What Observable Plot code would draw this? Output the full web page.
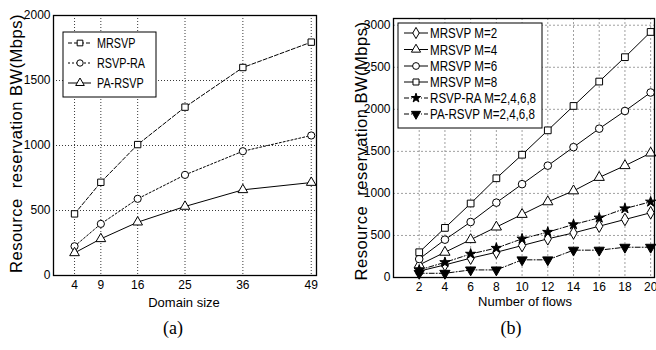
<!DOCTYPE html>
<html><head><meta charset="utf-8">
<script src="https://cdn.jsdelivr.net/npm/d3@7"></script>
<script src="https://cdn.jsdelivr.net/npm/@observablehq/plot@0.6"></script>
<style>
body{margin:0;background:#fff;}
#wrap{position:relative;width:656px;height:350px;overflow:hidden;background:#fff}
#wrap svg{position:absolute;top:0}
.cap{position:absolute;font-family:"Liberation Serif","Times New Roman",serif;font-size:18px;top:318px;transform:translateX(-50%);color:#000}
</style></head><body><div id="wrap"></div>
<script>
// ---- Chart (a) data ----
const domainSizes = [4, 9, 16, 25, 36, 49];
const mrsvpA   = [474, 717, 1007, 1295, 1600, 1795];
const rsvpRaA  = [225, 397, 590, 774, 956, 1077];
const paRsvpA  = [174, 282, 410, 531, 659, 715];
const seriesA  = ["MRSVP", "RSVP-RA", "PA-RSVP"];
const yTicksA  = [0, 500, 1000, 1500, 2000];

// ---- Chart (b) data ----
const flows    = [2, 4, 6, 8, 10, 12, 14, 16, 18, 20];
const mrsvpM2  = [75, 150, 230, 300, 380, 460, 530, 610, 690, 770];
const mrsvpM4  = [150, 300, 450, 600, 750, 900, 1030, 1190, 1330, 1480];
const mrsvpM6  = [220, 450, 660, 890, 1110, 1330, 1550, 1770, 1980, 2200];
const mrsvpM8  = [300, 590, 880, 1180, 1460, 1750, 2040, 2330, 2620, 2920];
const rsvpRaB  = [90, 180, 280, 350, 460, 540, 630, 710, 820, 900];
const paRsvpB  = [50, 50, 90, 90, 210, 210, 325, 325, 360, 360];
const seriesB  = ["MRSVP M=2", "MRSVP M=4", "MRSVP M=6", "MRSVP M=8", "RSVP-RA M=2,4,6,8", "PA-RSVP M=2,4,6,8"];
const yTicksB  = [0, 500, 1000, 1500, 2000, 2500, 3000];

const yLabel = "Resource\u00a0 reservation BW(Mbps)";
const font = "'Liberation Sans',Arial,sans-serif";

const valsA = [mrsvpA, rsvpRaA, paRsvpA];
const styleA = [
  {dash: "4,2", symbol: "square", fill: "white", rotate: 0},
  {dash: "2,2", symbol: "circle", fill: "white", rotate: 0},
  {dash: null,  symbol: "triangle", fill: "white", rotate: 0}
];
const valsB = [mrsvpM2, mrsvpM4, mrsvpM6, mrsvpM8, rsvpRaB, paRsvpB];
const styleB = [
  {dash: null, symbol: "diamond", fill: "white", rotate: 0},
  {dash: null, symbol: "triangle", fill: "white", rotate: 0},
  {dash: null, symbol: "circle", fill: "white", rotate: 0},
  {dash: null, symbol: "square", fill: "white", rotate: 0},
  {dash: "5,2,1,2", symbol: "star", fill: "black", rotate: 0},
  {dash: "5,2,1,2", symbol: "triangle", fill: "black", rotate: 180}
];
const symR = (st, r) => st.symbol === "star" ? r * 0.85 : r;

function seriesMarks(names, xs, vals, styles, r) {
  const marks = [];
  names.forEach((name, i) => {
    const rows = xs.map((x, j) => ({series: name, x, y: vals[i][j]}));
    const st = styles[i];
    marks.push(Plot.line(rows, {x: "x", y: "y", stroke: "black", strokeWidth: 1, strokeDasharray: st.dash || undefined}));
    marks.push(Plot.dot(rows, {x: "x", y: "y", symbol: () => st.symbol, r: symR(st, r),
      stroke: "black", strokeWidth: 1, fill: st.fill, rotate: st.rotate}));
  });
  return marks;
}

const W = 328, H = 312;
const wrap = document.getElementById("wrap");
const fmt = d3.format("d");

// ---- Plot (a) ----
const plotA = Plot.plot({
  width: W, height: H,
  marginLeft: 53, marginRight: 12, marginTop: 15, marginBottom: 37,
  style: {fontFamily: font, fontSize: "12px", color: "black", background: "white"},
  x: {domain: [0, 50], ticks: domainSizes, tickFormat: fmt, tickSize: 0, tickPadding: 5, label: null},
  y: {domain: [0, 2000], ticks: yTicksA, tickFormat: fmt, tickSize: 0, tickPadding: 3, label: null},
  symbol: {type: "identity"},
  marks: [
    Plot.ruleX(domainSizes, {stroke: "#222", strokeWidth: 0.9, strokeDasharray: "1,2"}),
    Plot.ruleY(yTicksA.slice(1, -1), {stroke: "#222", strokeWidth: 0.9, strokeDasharray: "1,2"}),
    ...seriesMarks(seriesA, domainSizes, valsA, styleA, 3.6),
    Plot.frame({stroke: "black", strokeWidth: 1.3}),
    Plot.text([yLabel], {frameAnchor: "left", textAnchor: "middle", dx: -37, dy: -2, rotate: -90, fontSize: 16.5}),
    Plot.text(["Domain size"], {frameAnchor: "bottom", dx: -1, dy: 31, fontSize: 13})
  ]
});
plotA.style.left = "0px";
wrap.appendChild(plotA);

// ---- Plot (b) ----
const plotB = Plot.plot({
  width: W, height: H,
  marginLeft: 65, marginRight: 2, marginTop: 18, marginBottom: 35,
  style: {fontFamily: font, fontSize: "12px", color: "black", background: "white"},
  x: {domain: [0, 20.3], ticks: flows, tickFormat: fmt, tickSize: 0, tickPadding: 5, label: null},
  y: {domain: [0, 3080], ticks: yTicksB, tickFormat: fmt, tickSize: 0, tickPadding: 3, label: null},
  symbol: {type: "identity"},
  marks: [
    Plot.ruleX(flows, {stroke: "#888", strokeWidth: 0.8, strokeDasharray: "2,2"}),
    Plot.ruleY(yTicksB.slice(1), {stroke: "#888", strokeWidth: 0.8, strokeDasharray: "2,2"}),
    ...seriesMarks(seriesB, flows, valsB, styleB, 3.8),
    Plot.frame({stroke: "black", strokeWidth: 1.3}),
    Plot.text([yLabel], {frameAnchor: "left", textAnchor: "middle", dx: -32, dy: 3, rotate: -90, fontSize: 16.5}),
    Plot.text(["Number of flows"], {frameAnchor: "bottom", dx: 1, dy: 28, fontSize: 13})
  ]
});
plotB.style.left = W + "px";
wrap.appendChild(plotB);

// widen the rotated axis titles a little, as in the reference
[plotA, plotB].forEach(svg => {
  d3.select(svg).selectAll("text").filter(function () { return this.textContent === yLabel; })
    .style("letter-spacing", "0.5px");
});

// ---- Legends (overlay) ----
const ov = d3.select(wrap).append("svg").attr("width", 656).attr("height", 350)
  .style("left", "0px").style("pointer-events", "none");
const symMap = {square: d3.symbolSquare, circle: d3.symbolCircle, triangle: d3.symbolTriangle,
  diamond: d3.symbolDiamond, star: d3.symbolStar};

function legend(box, names, styles, rowY, x0, x1, xm, xt, r, fs, squeeze) {
  const g = ov.append("g");
  g.append("rect").attr("x", box[0]).attr("y", box[1]).attr("width", box[2]).attr("height", box[3])
    .attr("fill", "white").attr("stroke", "black").attr("stroke-width", 1);
  names.forEach((name, i) => {
    const st = styles[i], y = rowY[i];
    g.append("line").attr("x1", x0).attr("x2", x1).attr("y1", y).attr("y2", y)
      .attr("stroke", "black").attr("stroke-dasharray", st.dash || null);
    const rr = symR(st, r);
    g.append("path").attr("d", d3.symbol(symMap[st.symbol], Math.PI * rr * rr)())
      .attr("transform", `translate(${xm},${y}) rotate(${st.rotate})`)
      .attr("fill", st.fill).attr("stroke", "black");
    const t = g.append("text").attr("x", xt).attr("y", y).attr("dy", "0.36em").text(name)
      .attr("font-family", font).attr("font-size", fs);
    const len = t.node().getComputedTextLength();
    t.attr("textLength", len * squeeze).attr("lengthAdjust", "spacingAndGlyphs");
  });
}
legend([63, 32, 93, 65], seriesA, styleA, [43, 63, 83], 68, 91, 80, 97, 3.2, 15, 0.72);
legend([398, 23, 144, 105], seriesB, styleB, [33, 49.5, 66, 82, 98, 114], 404, 428, 416, 430, 3.4, 14.5, 0.8);

// ---- Captions ----
[["(a)", 173], ["(b)", 511]].forEach(([t, x]) => {
  const d = document.createElement("div");
  d.className = "cap"; d.textContent = t; d.style.left = x + "px";
  wrap.appendChild(d);
});
</script>
</body></html>
